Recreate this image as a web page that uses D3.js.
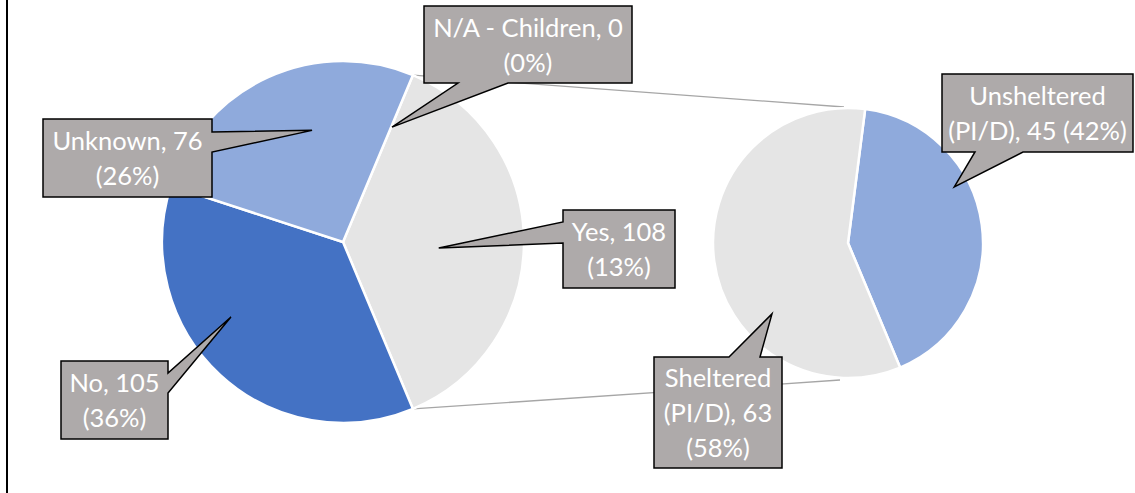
<!DOCTYPE html>
<html>
<head>
<meta charset="utf-8">
<script src="https://cdn.jsdelivr.net/npm/d3@7"></script>
<style>
  body { margin: 0; background: #fff; }
  svg { display: block; }
  .lbl text { font-family: Lato, "Open Sans", sans-serif; fill: #fff; }
</style>
</head>
<body>
<div id="chart"></div>
<script>
// data
var mainLabels = ["Yes", "No", "Unknown", "N/A - Children"];
var mainValues = [108, 105, 76, 0];
var mainPct    = ["13%", "36%", "26%", "0%"];

var subLabels = ["Unsheltered (PI/D)", "Sheltered (PI/D)"];
var subValues = [45, 63];
var subPct    = ["42%", "58%"];

var W = 1135, H = 493;
var fontSize = 25.5;
var lineH = 35;

var svg = d3.select("#chart").append("svg")
    .attr("width", W)
    .attr("height", H);

// frame line at left
svg.append("line")
    .attr("x1", 7).attr("x2", 7)
    .attr("y1", 0).attr("y2", H)
    .attr("stroke", "#000")
    .attr("stroke-width", 2);

var deg = Math.PI / 180;

var main = {cx: 343, cy: 242, r: 181};
var sub  = {cx: 848, cy: 243, r: 135};

// Yes slice centred on the right side
var mainTotal = d3.sum(mainValues);
var yesSpan = mainValues[0] / mainTotal * 2 * Math.PI;
var mainStart = Math.PI / 2 - yesSpan / 2;

var mainData = mainLabels.map(function(d, i) {
    return {label: d, value: mainValues[i], pct: mainPct[i]};
});
var subData = subLabels.map(function(d, i) {
    return {label: d, value: subValues[i], pct: subPct[i]};
});

var mainColor = d3.scaleOrdinal()
    .domain(mainLabels)
    .range(["#e5e5e5", "#4472c4", "#8faadc", "#a5a5a5"]);
var subColor = d3.scaleOrdinal()
    .domain(subLabels)
    .range(["#8faadc", "#e5e5e5"]);

var mainArcs = d3.pie().sort(null).value(function(d) { return d.value; })
    .startAngle(mainStart).endAngle(mainStart + 2 * Math.PI)(mainData);
var subStart = 7.3 * deg;
var subArcs = d3.pie().sort(null).value(function(d) { return d.value; })
    .startAngle(subStart).endAngle(subStart + 2 * Math.PI)(subData);

// connector lines (behind pies)
function polar(p, a, f) {
    return [p.cx + p.r * f * Math.sin(a), p.cy - p.r * f * Math.cos(a)];
}
var yesArc = mainArcs[0];
var conn = [
    [polar(main, yesArc.startAngle, 1), [sub.cx - 4, sub.cy - sub.r - 1]],
    [polar(main, yesArc.endAngle, 1), [sub.cx - 8, sub.cy + sub.r + 2]]
];
svg.append("g").selectAll("line")
    .data(conn)
    .enter().append("line")
    .attr("x1", function(d) { return d[0][0]; })
    .attr("y1", function(d) { return d[0][1]; })
    .attr("x2", function(d) { return d[1][0]; })
    .attr("y2", function(d) { return d[1][1]; })
    .attr("stroke", "#a6a6a6")
    .attr("stroke-width", 1.3);

var arcMain = d3.arc().innerRadius(0).outerRadius(main.r);
var arcSub  = d3.arc().innerRadius(0).outerRadius(sub.r);

svg.append("g")
    .attr("transform", "translate(" + main.cx + "," + main.cy + ")")
    .selectAll("path")
    .data(mainArcs)
    .enter().append("path")
    .attr("d", arcMain)
    .attr("fill", function(d) { return mainColor(d.data.label); })
    .attr("stroke", "#fff")
    .attr("stroke-width", function(d) { return d.data.value > 0 ? 2.5 : 0; })
    .attr("stroke-linejoin", "round");

svg.append("g")
    .attr("transform", "translate(" + sub.cx + "," + sub.cy + ")")
    .selectAll("path")
    .data(subArcs)
    .enter().append("path")
    .attr("d", arcSub)
    .attr("fill", function(d) { return subColor(d.data.label); })
    .attr("stroke", "#fff")
    .attr("stroke-width", 2.5)
    .attr("stroke-linejoin", "round");

// callouts: box, side of pointer, base offsets, tip (angle deg, radius fraction)
var callouts = [
    {d: mainData[2], pie: main, box: [43, 119, 169, 78],  side: "right",  base: [13, 33], tip: [344.5, 0.64]},
    {d: mainData[3], pie: main, box: [424, 6, 208, 77],   side: "bottom", base: [34, 84], tip: [23.1, 0.69]},
    {d: mainData[0], pie: main, box: [563, 210, 112, 78], side: "left",   base: [12, 33], tip: [93.6, 0.53]},
    {d: mainData[1], pie: main, box: [61, 361, 107, 78],  side: "right",  base: [12, 32], tip: [236.2, 0.745]},
    {d: subData[0],  pie: sub,  box: [942, 74, 191, 78],  side: "bottom", base: [33, 81], tip: [62.2, 0.89]},
    {d: subData[1],  pie: sub,  box: [654, 357, 128, 111], side: "top",   base: [75, 106], tip: [227, 0.77]}
];

function calloutPath(c) {
    var x = c.box[0], y = c.box[1], w = c.box[2], h = c.box[3];
    var t = polar(c.pie, c.tip[0] * deg, c.tip[1]);
    var a = c.base[0], b = c.base[1];
    var p = d3.path();
    p.moveTo(x, y);
    if (c.side == "top") { p.lineTo(x + a, y); p.lineTo(t[0], t[1]); p.lineTo(x + b, y); }
    p.lineTo(x + w, y);
    if (c.side == "right") { p.lineTo(x + w, y + a); p.lineTo(t[0], t[1]); p.lineTo(x + w, y + b); }
    p.lineTo(x + w, y + h);
    if (c.side == "bottom") { p.lineTo(x + b, y + h); p.lineTo(t[0], t[1]); p.lineTo(x + a, y + h); }
    p.lineTo(x, y + h);
    if (c.side == "left") { p.lineTo(x, y + b); p.lineTo(t[0], t[1]); p.lineTo(x, y + a); }
    p.closePath();
    return p.toString();
}

var lg = svg.append("g").attr("class", "lbl");

callouts.forEach(function(c) {
    var g = lg.append("g");
    g.append("path")
        .attr("d", calloutPath(c))
        .attr("fill", "#aeaaaa")
        .attr("stroke", "#000")
        .attr("stroke-width", 1.5)
        .attr("stroke-linejoin", "miter");

    // greedy word wrap inside the box
    var words = (c.d.label + ", " + c.d.value + " (" + c.d.pct + ")").split(" ");
    var maxW = c.box[2] - 3;
    var txt = g.append("text")
        .attr("font-size", fontSize)
        .attr("text-anchor", "middle");
    var lines = [], cur = "";
    words.forEach(function(wd) {
        var test = cur ? cur + " " + wd : wd;
        txt.text(test);
        if (cur && txt.node().getComputedTextLength() > maxW) {
            lines.push(cur);
            cur = wd;
        } else {
            cur = test;
        }
    });
    lines.push(cur);
    txt.text(null);
    var cx = c.box[0] + c.box[2] / 2;
    var cy = c.box[1] + c.box[3] / 2 + 1;
    var y0 = cy - lineH * (lines.length - 1) / 2;
    lines.forEach(function(l, i) {
        txt.append("tspan")
            .attr("x", cx)
            .attr("y", y0 + i * lineH)
            .attr("dy", "0.35em")
            .text(l);
    });
});
</script>
</body>
</html>
